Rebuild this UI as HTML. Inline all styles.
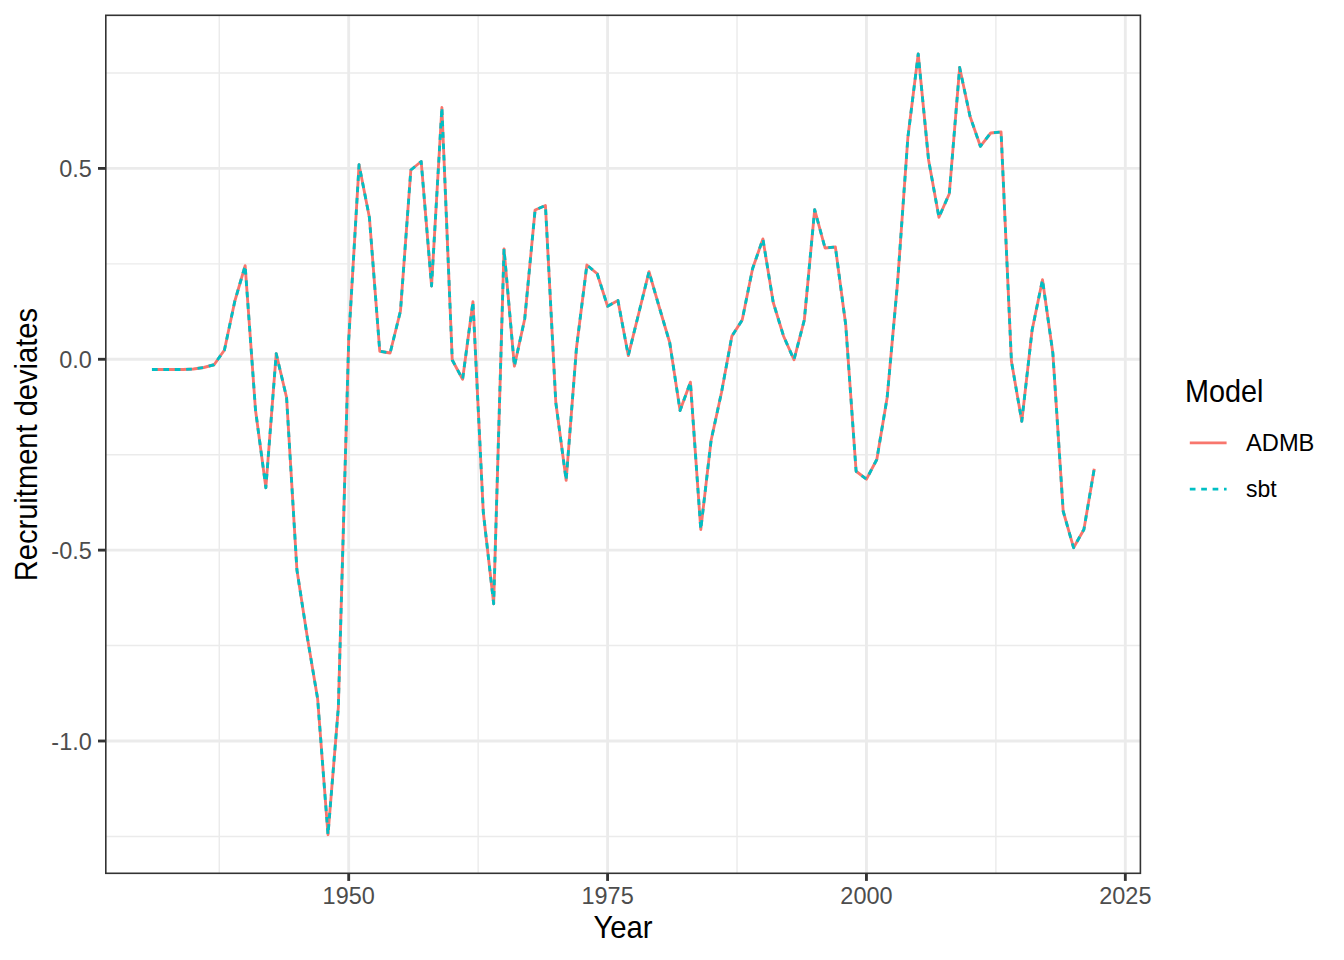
<!DOCTYPE html>
<html><head><meta charset="utf-8"><title>Recruitment deviates</title>
<style>html,body{margin:0;padding:0;background:#fff;width:1344px;height:960px;overflow:hidden;font-family:"Liberation Sans",sans-serif;}</style>
</head><body>
<svg width="1344" height="960" viewBox="0 0 1344 960" style="position:absolute;left:0;top:0">
<rect x="0" y="0" width="1344" height="960" fill="#ffffff"/>
<g stroke="#EBEBEB" stroke-width="1.42" fill="none">
<line x1="105.80" x2="1140.40" y1="72.97" y2="72.97"/>
<line x1="105.80" x2="1140.40" y1="263.84" y2="263.84"/>
<line x1="105.80" x2="1140.40" y1="454.70" y2="454.70"/>
<line x1="105.80" x2="1140.40" y1="645.57" y2="645.57"/>
<line x1="105.80" x2="1140.40" y1="836.43" y2="836.43"/>
<line x1="219.26" x2="219.26" y1="15.30" y2="873.30"/>
<line x1="478.14" x2="478.14" y1="15.30" y2="873.30"/>
<line x1="737.01" x2="737.01" y1="15.30" y2="873.30"/>
<line x1="995.89" x2="995.89" y1="15.30" y2="873.30"/>
</g>
<g stroke="#EBEBEB" stroke-width="2.85" fill="none">
<line x1="105.80" x2="1140.40" y1="168.40" y2="168.40"/>
<line x1="105.80" x2="1140.40" y1="359.27" y2="359.27"/>
<line x1="105.80" x2="1140.40" y1="550.13" y2="550.13"/>
<line x1="105.80" x2="1140.40" y1="741.00" y2="741.00"/>
<line x1="348.70" x2="348.70" y1="15.30" y2="873.30"/>
<line x1="607.58" x2="607.58" y1="15.30" y2="873.30"/>
<line x1="866.45" x2="866.45" y1="15.30" y2="873.30"/>
<line x1="1125.33" x2="1125.33" y1="15.30" y2="873.30"/>
</g>
<polyline points="151.95,369.50 162.31,369.50 172.66,369.50 183.02,369.50 193.37,369.00 203.73,367.50 214.08,364.75 224.44,350.00 234.79,301.25 245.15,265.60 255.50,410.00 265.86,487.70 276.21,353.70 286.57,397.50 296.92,570.00 307.28,637.00 317.63,698.75 327.99,834.70 338.34,707.50 348.70,340.00 359.06,164.70 369.41,217.50 379.76,351.25 390.12,353.00 400.48,311.00 410.83,170.00 421.19,161.50 431.54,286.00 441.89,107.50 452.25,360.00 462.61,379.30 472.96,301.70 483.31,512.50 493.67,603.80 504.02,249.00 514.38,366.20 524.74,318.75 535.09,210.00 545.44,205.50 555.80,402.50 566.15,480.30 576.51,347.50 586.87,265.00 597.22,273.75 607.58,306.25 617.93,300.50 628.29,355.60 638.64,313.75 649.00,271.70 659.35,307.50 669.70,342.50 680.06,410.60 690.41,382.20 700.77,529.50 711.12,440.20 721.48,392.50 731.84,336.25 742.19,320.00 752.55,268.75 762.90,238.90 773.25,302.50 783.61,336.25 793.97,359.80 804.32,320.00 814.67,209.70 825.03,248.00 835.38,247.00 845.74,325.00 856.10,471.25 866.45,479.20 876.81,459.50 887.16,397.50 897.52,283.00 907.87,137.50 918.22,54.00 928.58,160.00 938.93,217.30 949.29,193.75 959.64,67.50 970.00,116.25 980.36,146.30 990.71,133.00 1001.07,132.00 1011.42,361.25 1021.78,421.30 1032.13,330.00 1042.49,279.70 1052.84,353.00 1063.19,511.25 1073.55,547.70 1083.90,529.50 1094.26,468.75" fill="none" stroke="#F8766D" stroke-width="2.85" stroke-linejoin="round" stroke-linecap="butt"/>
<polyline points="151.95,369.50 162.31,369.50 172.66,369.50 183.02,369.50 193.37,369.00 203.73,367.50 214.08,364.75 224.44,350.00 234.79,301.25 245.15,265.60 255.50,410.00 265.86,487.70 276.21,353.70 286.57,397.50 296.92,570.00 307.28,637.00 317.63,698.75 327.99,834.70 338.34,707.50 348.70,340.00 359.06,164.70 369.41,217.50 379.76,351.25 390.12,353.00 400.48,311.00 410.83,170.00 421.19,161.50 431.54,286.00 441.89,107.50 452.25,360.00 462.61,379.30 472.96,301.70 483.31,512.50 493.67,603.80 504.02,249.00 514.38,366.20 524.74,318.75 535.09,210.00 545.44,205.50 555.80,402.50 566.15,480.30 576.51,347.50 586.87,265.00 597.22,273.75 607.58,306.25 617.93,300.50 628.29,355.60 638.64,313.75 649.00,271.70 659.35,307.50 669.70,342.50 680.06,410.60 690.41,382.20 700.77,529.50 711.12,440.20 721.48,392.50 731.84,336.25 742.19,320.00 752.55,268.75 762.90,238.90 773.25,302.50 783.61,336.25 793.97,359.80 804.32,320.00 814.67,209.70 825.03,248.00 835.38,247.00 845.74,325.00 856.10,471.25 866.45,479.20 876.81,459.50 887.16,397.50 897.52,283.00 907.87,137.50 918.22,54.00 928.58,160.00 938.93,217.30 949.29,193.75 959.64,67.50 970.00,116.25 980.36,146.30 990.71,133.00 1001.07,132.00 1011.42,361.25 1021.78,421.30 1032.13,330.00 1042.49,279.70 1052.84,353.00 1063.19,511.25 1073.55,547.70 1083.90,529.50 1094.26,468.75" fill="none" stroke="#00BFC4" stroke-width="2.85" stroke-linejoin="round" stroke-linecap="butt" stroke-dasharray="5.7 5.7"/>
<rect x="105.80" y="15.30" width="1034.60" height="858.00" fill="none" stroke="#333333" stroke-width="1.6"/>
<g stroke="#333333" stroke-width="2.85">
<line x1="98.00" x2="105.80" y1="168.40" y2="168.40"/>
<line x1="98.00" x2="105.80" y1="359.27" y2="359.27"/>
<line x1="98.00" x2="105.80" y1="550.13" y2="550.13"/>
<line x1="98.00" x2="105.80" y1="741.00" y2="741.00"/>
<line x1="348.70" x2="348.70" y1="873.30" y2="880.90"/>
<line x1="607.58" x2="607.58" y1="873.30" y2="880.90"/>
<line x1="866.45" x2="866.45" y1="873.30" y2="880.90"/>
<line x1="1125.33" x2="1125.33" y1="873.30" y2="880.90"/>
</g>
<g font-family="Liberation Sans, sans-serif" fill="#4D4D4D">
<text transform="translate(91.80,176.95) scale(1.0000,1.0100)" font-size="23.47" text-anchor="end">0.5</text>
<text transform="translate(91.80,367.82) scale(1.0000,1.0100)" font-size="23.47" text-anchor="end">0.0</text>
<text transform="translate(91.80,558.68) scale(1.0000,1.0100)" font-size="23.47" text-anchor="end">-0.5</text>
<text transform="translate(91.80,749.55) scale(1.0000,1.0100)" font-size="23.47" text-anchor="end">-1.0</text>
<text transform="translate(348.70,904.40)" font-size="23.47" text-anchor="middle">1950</text>
<text transform="translate(607.58,904.40)" font-size="23.47" text-anchor="middle">1975</text>
<text transform="translate(866.45,904.40)" font-size="23.47" text-anchor="middle">2000</text>
<text transform="translate(1125.33,904.40)" font-size="23.47" text-anchor="middle">2025</text>
</g>
<g font-family="Liberation Sans, sans-serif" fill="#000000">
<text transform="translate(623.00,938.10) scale(1.0000,1.0700)" font-size="29.33" text-anchor="middle">Year</text>
<text transform="translate(36.90,444.60) rotate(-90) scale(0.9927,1.0500)" font-size="29.33" text-anchor="middle">Recruitment deviates</text>
<text transform="translate(1184.90,401.50) scale(0.9830,1.0600)" font-size="29.33" text-anchor="start">Model</text>
<text transform="translate(1246.00,451.40) scale(1.0090,1.0500)" font-size="23.47" text-anchor="start">ADMB</text>
<text transform="translate(1246.00,497.20) scale(0.9800,1.0000)" font-size="23.47" text-anchor="start">sbt</text>
</g>
<line x1="1189.8" x2="1226.6" y1="442.8" y2="442.8" stroke="#F8766D" stroke-width="2.85"/>
<line x1="1189.8" x2="1226.6" y1="489.1" y2="489.1" stroke="#00BFC4" stroke-width="2.85" stroke-dasharray="5.7 5.7"/>
</svg>
</body></html>
